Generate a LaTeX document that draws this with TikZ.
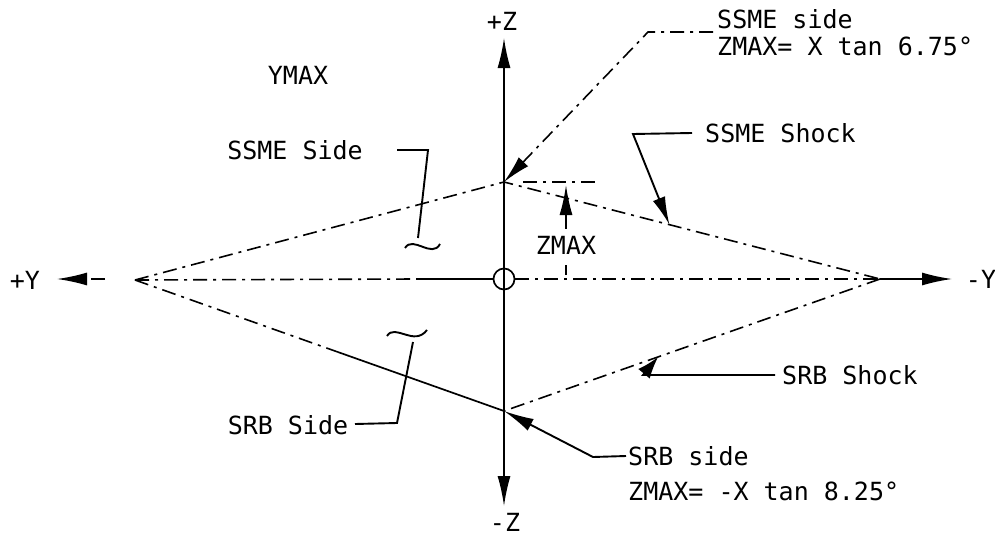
\documentclass[tikz,border=0pt]{standalone}
\usepackage{fontspec}
\newfontfamily\labelfont{DejaVu Sans Mono}
\usetikzlibrary{arrows.meta,calc}

\tikzset{
  axis line/.style={line width=1.7pt},
  chain line/.style={line width=1.6pt, dash pattern=on 14pt off 6pt on 3pt off 6pt},
  leader/.style={line width=1.9pt},
  big head/.style={-{Latex[length=30pt,width=13pt]}},
  small head/.style={-{Latex[length=28pt,width=13pt]}},
  stub head/.style={-{Latex[length=22pt,width=15pt]}},
  tag/.style={font=\labelfont\fontsize{25}{30}\selectfont, inner sep=0pt},
}

\begin{document}
\begin{tikzpicture}[x=1pt,y=-1pt]
    \useasboundingbox (0,0) rectangle (995,538);

    % corners of the shock diamond
    \coordinate (O) at (504,279);
    \coordinate (L) at (135,280);
    \coordinate (R) at (880,279);
    \coordinate (T) at (504,182);
    \coordinate (B) at (504,411);

    % axes
    \coordinate (ztop) at (504,38);
    \coordinate (zbot) at (504,506);
    \coordinate (yleft) at (57,279);
    \coordinate (yright) at (952,279);
    \coordinate (ygap) at (105,279);
    \coordinate (ysolid) at (417,279);

    \node[tag] (pz) at (502,21) {+Z};
    \node[tag] (mz) at (505,522) {-Z};
    \node[tag] (py) at (25,280) {+Y};
    \node[tag] (my) at (981,279) {-Y};

    \node[circle, draw, line width=1.7pt, minimum size=21pt, inner sep=0pt] (origin) at (O) {};
    \draw[axis line, big head] (O) -- (ztop);
    \draw[axis line, big head] (O) -- (zbot);
    \draw[axis line, big head] (R) -- (yright);
    \draw[chain line, big head] (ygap) -- (yleft);
    \draw[chain line] (L) -- (ysolid);
    \draw[axis line] (ysolid) -- (origin.west);
    \draw[chain line] (origin.east) -- (R);

    % sides and shocks
    \draw[chain line] (L) -- (T) -- (R);
    \draw[chain line] (R) -- (B);
    \draw[chain line] (L) -- ($(L)!0.55!(B)$);
    \draw[axis line] ($(L)!0.55!(B)$) -- (B);

    % ZMAX dimension
    \coordinate (zdimstart) at (523,182);
    \coordinate (zdimend) at (597,182);
    \coordinate (zmaxtip) at (566,185);
    \draw[chain line] (zdimstart) -- (zdimend);
    \node[tag] (zmax) at (566,245) {ZMAX};
    \draw[leader, big head] ([yshift=7pt]zmax.north) -- (zmaxtip);
    \draw[axis line] ([yshift=-11pt]zmax.south) -- ++(0,10);

    \node[tag] (ymax) at (298,75) {YMAX};

    % SSME side callout
    \node[tag, anchor=west] (ssmeside) at (717,19) {SSME side};
    \node[tag, anchor=west] (ssmezmax) at (717,46) {ZMAX= X tan 6.75°};
    \coordinate (ssmestub) at (713,32);
    \coordinate (ssmebend) at (648,32);
    \draw[chain line, small head] (ssmestub) -- (ssmebend) -- (T);

    % SSME shock callout
    \node[tag, anchor=west] (ssmeshock) at (705,133) {SSME Shock};
    \coordinate (ssmeshockbend) at (633,134);
    \coordinate (ssmeshocktip) at ($(T)!0.44!(R)$);
    \draw[leader, small head] ([xshift=-13pt]ssmeshock.west) -- (ssmeshockbend) -- (ssmeshocktip);

    % SRB shock callout
    \node[tag, anchor=west] (srbshock) at (782,375) {SRB Shock};
    \coordinate (srbshockbend) at (643,375);
    \coordinate (srbshocktip) at ($(R)!0.59!(B)$);
    \draw[leader, stub head] ([xshift=-7pt]srbshock.west) -- (srbshockbend) -- (srbshocktip);

    % SRB side callout
    \node[tag, anchor=west] (srbside) at (628,456) {SRB side};
    \node[tag, anchor=west] (srbzmax) at (628,491) {ZMAX= -X tan 8.25°};
    \coordinate (srbsidebend) at (593,457);
    \draw[leader, big head] ([xshift=-2pt]srbside.west) -- (srbsidebend) -- (B);

    % left side labels with break marks
    \node[tag] (ssmesidel) at (295,150) {SSME Side};
    \coordinate (ssmebrk1) at (397,150);
    \coordinate (ssmebrk2) at (428,150);
    \coordinate (ssmebrk3) at (418,238);
    \draw[leader] (ssmebrk1) -- (ssmebrk2) -- (ssmebrk3);
    \draw[leader] (405,248) .. controls (413,235) and (432,259) .. (440,244);

    \node[tag] (srbsidel) at (288,425) {SRB Side};
    \coordinate (srbbrk1) at (355,424);
    \coordinate (srbbrk2) at (397,423);
    \coordinate (srbbrk3) at (413,342);
    \draw[leader] (srbbrk1) -- (srbbrk2) -- (srbbrk3);
    \draw[leader] (387,336) .. controls (395,323) and (414,347) .. (427,330);
\end{tikzpicture}
\end{document}
